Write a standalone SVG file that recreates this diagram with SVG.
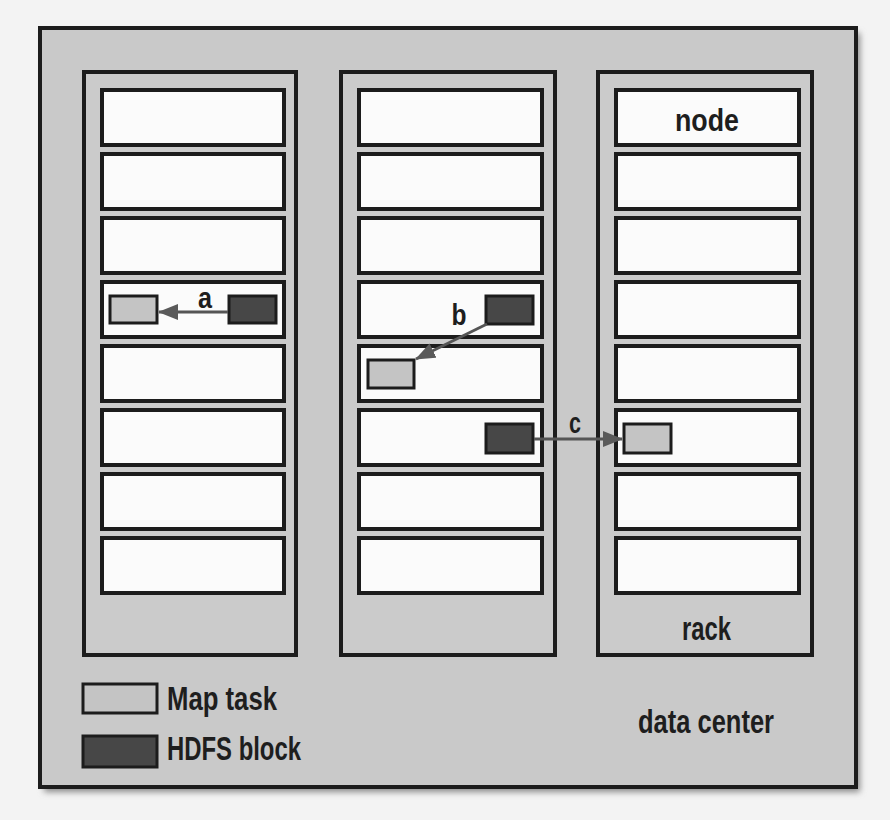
<svg xmlns="http://www.w3.org/2000/svg" width="890" height="820" viewBox="0 0 890 820">
  <defs>
    <style>
      .dc { fill: #c9c9c9; stroke: #1c1c1c; stroke-width: 4; }
      .rack { fill: #cbcbcb; stroke: #1c1c1c; stroke-width: 4; }
      .node { fill: #fbfbfb; stroke: #1c1c1c; stroke-width: 4; }
      .map { fill: #c4c4c4; stroke: #1c1c1c; stroke-width: 3; }
      .hdfs { fill: #474747; stroke: #1c1c1c; stroke-width: 3; }
      .conn { stroke: #555555; stroke-width: 3; fill: none; }
      .lbl { font-family: "Liberation Sans", Arial, sans-serif; font-weight: bold; fill: #1e1e1e; }
    </style>
    <marker id="arrow" viewBox="0 0 20 16" refX="19" refY="8" markerWidth="20" markerHeight="16" markerUnits="userSpaceOnUse" orient="auto">
      <path d="M0,0 L20,8 L0,16 Z" fill="#5a5a5a"/>
    </marker>
    <filter id="shadow" x="-5%" y="-5%" width="115%" height="115%">
      <feGaussianBlur stdDeviation="3"/>
    </filter>
  </defs>

  <rect width="890" height="820" fill="#f3f3f3"/>

  <g id="data-center">
    <rect x="44" y="33" width="816" height="759" fill="#8a8a8a" filter="url(#shadow)"/>
    <rect class="dc" x="40" y="28" width="816" height="759"/>
    <text class="lbl" x="638" y="733" font-size="33" textLength="136" lengthAdjust="spacingAndGlyphs">data center</text>
  </g>

  <g id="rack1">
    <rect class="rack" x="84" y="72" width="212" height="583"/>
  </g>
  <g id="rack2">
    <rect class="rack" x="341" y="72" width="214" height="583"/>
  </g>
  <g id="rack3">
    <rect class="rack" x="598" y="72" width="214" height="583"/>
    <text class="lbl" x="682" y="640" font-size="33" textLength="49" lengthAdjust="spacingAndGlyphs">rack</text>
  </g>

  <g id="rack1-node1"><rect class="node" x="102" y="90" width="182" height="55"/></g>
  <g id="rack1-node2"><rect class="node" x="102" y="154" width="182" height="55"/></g>
  <g id="rack1-node3"><rect class="node" x="102" y="218" width="182" height="55"/></g>
  <g id="rack1-node4"><rect class="node" x="102" y="282" width="182" height="55"/></g>
  <g id="rack1-node5"><rect class="node" x="102" y="346" width="182" height="55"/></g>
  <g id="rack1-node6"><rect class="node" x="102" y="410" width="182" height="55"/></g>
  <g id="rack1-node7"><rect class="node" x="102" y="474" width="182" height="55"/></g>
  <g id="rack1-node8"><rect class="node" x="102" y="538" width="182" height="55"/></g>

  <g id="rack2-node1"><rect class="node" x="359" y="90" width="183" height="55"/></g>
  <g id="rack2-node2"><rect class="node" x="359" y="154" width="183" height="55"/></g>
  <g id="rack2-node3"><rect class="node" x="359" y="218" width="183" height="55"/></g>
  <g id="rack2-node4"><rect class="node" x="359" y="282" width="183" height="55"/></g>
  <g id="rack2-node5"><rect class="node" x="359" y="346" width="183" height="55"/></g>
  <g id="rack2-node6"><rect class="node" x="359" y="410" width="183" height="55"/></g>
  <g id="rack2-node7"><rect class="node" x="359" y="474" width="183" height="55"/></g>
  <g id="rack2-node8"><rect class="node" x="359" y="538" width="183" height="55"/></g>

  <g id="rack3-node1">
    <rect class="node" x="616" y="90" width="183" height="55"/>
    <text class="lbl" x="675" y="131" font-size="32" textLength="64" lengthAdjust="spacingAndGlyphs">node</text>
  </g>
  <g id="rack3-node2"><rect class="node" x="616" y="154" width="183" height="55"/></g>
  <g id="rack3-node3"><rect class="node" x="616" y="218" width="183" height="55"/></g>
  <g id="rack3-node4"><rect class="node" x="616" y="282" width="183" height="55"/></g>
  <g id="rack3-node5"><rect class="node" x="616" y="346" width="183" height="55"/></g>
  <g id="rack3-node6"><rect class="node" x="616" y="410" width="183" height="55"/></g>
  <g id="rack3-node7"><rect class="node" x="616" y="474" width="183" height="55"/></g>
  <g id="rack3-node8"><rect class="node" x="616" y="538" width="183" height="55"/></g>

  <g id="map-a"><rect class="map" x="110" y="296" width="47" height="27"/></g>
  <g id="hdfs-a"><rect class="hdfs" x="229" y="296" width="47" height="27"/></g>
  <g id="hdfs-b"><rect class="hdfs" x="486" y="296" width="47" height="28"/></g>
  <g id="map-b"><rect class="map" x="368" y="360" width="46" height="28"/></g>
  <g id="hdfs-c"><rect class="hdfs" x="486" y="424" width="47" height="29"/></g>
  <g id="map-c"><rect class="map" x="624" y="424" width="47" height="29"/></g>

  <g id="connectors">
    <line class="conn" x1="228" y1="312" x2="159" y2="312" marker-end="url(#arrow)"/>
    <line class="conn" x1="487" y1="324" x2="416" y2="359" marker-end="url(#arrow)"/>
    <line class="conn" x1="534" y1="439" x2="622" y2="439" marker-end="url(#arrow)"/>
    <text class="lbl" x="205" y="308" font-size="29" text-anchor="middle" textLength="14" lengthAdjust="spacingAndGlyphs">a</text>
    <text class="lbl" x="459" y="325" font-size="29" text-anchor="middle" textLength="15" lengthAdjust="spacingAndGlyphs">b</text>
    <text class="lbl" x="575" y="433" font-size="29" text-anchor="middle" textLength="12" lengthAdjust="spacingAndGlyphs">c</text>
  </g>

  <g id="legend-map">
    <rect class="map" x="83" y="684" width="74" height="29"/>
    <text class="lbl" x="167" y="710" font-size="33" textLength="110" lengthAdjust="spacingAndGlyphs">Map task</text>
  </g>
  <g id="legend-hdfs">
    <rect class="hdfs" x="83" y="736" width="74" height="31"/>
    <text class="lbl" x="167" y="760" font-size="33" textLength="134" lengthAdjust="spacingAndGlyphs">HDFS block</text>
  </g>
</svg>
